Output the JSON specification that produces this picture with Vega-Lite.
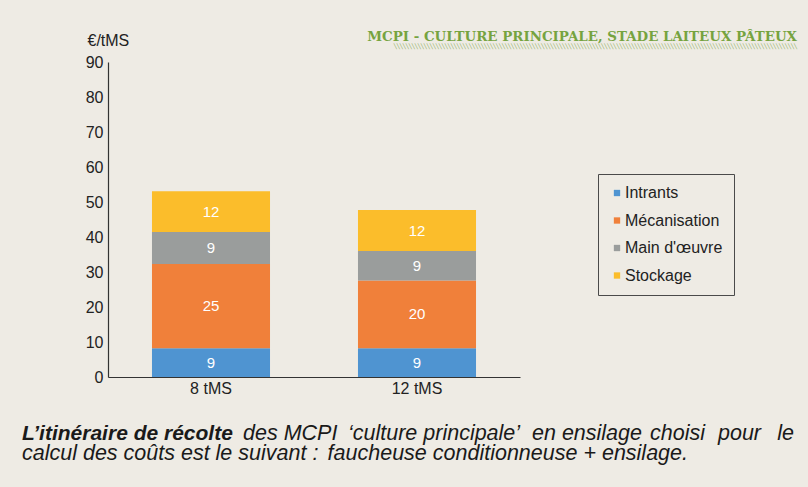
{
  "$schema": "https://vega.github.io/schema/vega-lite/v6.json",
  "width": 412,
  "height": 315,
  "autosize": {"type": "none"},
  "padding": {"left": 108, "top": 62, "right": 288, "bottom": 110},
  "background": "#eeebe4",
  "config": {"view": {"stroke": null}, "font": "Liberation Sans", "axisY": {"labelOverlap": false}},
  "datasets": {
    "costs": [
      {"cat": "8 tMS", "comp": "Intrants", "k": 1, "value": 8.2, "label": "9"},
      {"cat": "8 tMS", "comp": "Mécanisation", "k": 2, "value": 24.1, "label": "25"},
      {"cat": "8 tMS", "comp": "Main d'œuvre", "k": 3, "value": 9.1, "label": "9"},
      {"cat": "8 tMS", "comp": "Stockage", "k": 4, "value": 11.7, "label": "12"},
      {"cat": "12 tMS", "comp": "Intrants", "k": 1, "value": 8.2, "label": "9"},
      {"cat": "12 tMS", "comp": "Mécanisation", "k": 2, "value": 19.4, "label": "20"},
      {"cat": "12 tMS", "comp": "Main d'œuvre", "k": 3, "value": 8.4, "label": "9"},
      {"cat": "12 tMS", "comp": "Stockage", "k": 4, "value": 11.7, "label": "12"}
    ]
  },
  "layer": [
    {
      "data": {"name": "costs"},
      "mark": {"type": "bar"},
      "encoding": {
        "x": {
          "field": "cat", "type": "nominal", "sort": ["8 tMS", "12 tMS"],
          "scale": {"paddingInner": 0.427, "paddingOuter": 0.2135},
          "axis": {"title": null, "labelAngle": 0, "ticks": false, "domainColor": "#333333", "domainWidth": 1.2, "labelPadding": 3, "labelFont": "Liberation Sans", "labelFontSize": 16, "labelColor": "#222222"}
        },
        "y": {
          "field": "value", "type": "quantitative", "stack": "zero",
          "scale": {"domain": [0, 90], "nice": false},
          "axis": {
            "title": "€/tMS", "titleAngle": 0, "titleX": -21, "titleY": -17, "titleAlign": "left", "titleBaseline": "alphabetic",
            "titleFont": "Liberation Sans", "titleFontSize": 16, "titleFontWeight": "normal", "titleColor": "#222222",
            "ticks": false, "grid": false, "values": [0, 10, 20, 30, 40, 50, 60, 70, 80, 90], "labelOverlap": false,
            "labelFont": "Liberation Sans", "labelFontSize": 16, "labelColor": "#222222", "labelPadding": 5,
            "domainColor": "#333333", "domainWidth": 1.2
          }
        },
        "color": {
          "field": "comp", "type": "nominal",
          "scale": {"domain": ["Intrants", "Mécanisation", "Main d'œuvre", "Stockage"], "range": ["#4f94d1", "#f0803a", "#9a9d9c", "#fbbd2b"]},
          "legend": {
            "title": null, "orient": "none", "legendX": 490, "legendY": 112,
            "strokeColor": "#4a4a4a", "padding": 11,
            "symbolType": "square", "symbolSize": 40, "symbolStrokeWidth": 0,
            "labelFont": "Liberation Sans", "labelFontSize": 16, "labelColor": "#222222",
            "rowPadding": 11.5, "labelOffset": 0
          }
        },
        "order": {"field": "k", "type": "quantitative"}
      }
    },
    {
      "data": {"name": "costs"},
      "mark": {"type": "text", "color": "white", "fontSize": 15, "font": "Liberation Sans"},
      "encoding": {
        "x": {"field": "cat", "type": "nominal", "sort": ["8 tMS", "12 tMS"],
          "axis": {"title": null, "labelAngle": 0, "ticks": false, "domainColor": "#333333", "domainWidth": 1.2, "labelPadding": 3, "labelFont": "Liberation Sans", "labelFontSize": 16, "labelColor": "#222222"}},
        "y": {"field": "value", "type": "quantitative", "stack": "zero", "bandPosition": 0.5,
          "axis": {
            "title": "€/tMS", "titleAngle": 0, "titleX": -21, "titleY": -17, "titleAlign": "left", "titleBaseline": "alphabetic",
            "titleFont": "Liberation Sans", "titleFontSize": 16, "titleFontWeight": "normal", "titleColor": "#222222",
            "ticks": false, "grid": false, "values": [0, 10, 20, 30, 40, 50, 60, 70, 80, 90], "labelOverlap": false,
            "labelFont": "Liberation Sans", "labelFontSize": 16, "labelColor": "#222222", "labelPadding": 5,
            "domainColor": "#333333", "domainWidth": 1.2
          }},
        "detail": {"field": "comp"},
        "order": {"field": "k", "type": "quantitative"},
        "text": {"field": "label"}
      }
    },
    {
      "data": {"values": [{"t": "MCPI - CULTURE PRINCIPALE, STADE LAITEUX PÂTEUX"}]},
      "mark": {"type": "text", "align": "right", "baseline": "alphabetic", "font": "DejaVu Serif", "fontSize": 13.4, "fontWeight": "bold", "color": "#76a33f", "x": 689, "y": -21},
      "encoding": {"text": {"field": "t"}}
    },
    {
      "data": {"values": [{"t": "╲╲╲╲╲╲╲╲╲╲╲╲╲╲╲╲╲╲╲╲╲╲╲╲╲╲╲╲╲╲╲╲╲╲╲╲╲╲╲╲╲╲╲╲╲╲╲╲╲╲╲╲╲╲╲╲╲╲╲╲╲╲╲╲╲╲╲╲╲╲╲╲╲╲╲╲╲╲╲╲╲╲╲╲╲╲╲╲╲╲╲╲╲╲╲╲╲╲╲╲╲╲╲╲╲╲╲╲╲╲╲╲╲╲╲╲╲╲╲╲╲╲╲╲╲╲╲╲╲╲╲╲╲╲"}]},
      "mark": {"type": "text", "align": "right", "baseline": "alphabetic", "font": "DejaVu Sans", "fontSize": 5, "fontWeight": "bold", "color": "#76a33f", "x": 689, "y": -14},
      "encoding": {"text": {"field": "t"}}
    },
    {
      "data": {"values": [{"t": "L’itinéraire de récolte"}]},
      "mark": {"type": "text", "align": "left", "baseline": "alphabetic", "fontSize": 21, "fontStyle": "italic", "fontWeight": "bold", "color": "#1a1a1a", "x": -86, "y": 378},
      "encoding": {"text": {"field": "t"}}
    },
    {
      "data": {"values": [{"t": "des MCPI"}]},
      "mark": {"type": "text", "align": "left", "baseline": "alphabetic", "fontSize": 21.5, "fontStyle": "italic", "color": "#1a1a1a", "x": 135, "y": 378},
      "encoding": {"text": {"field": "t"}}
    },
    {
      "data": {"values": [{"t": "‘culture principale’"}]},
      "mark": {"type": "text", "align": "left", "baseline": "alphabetic", "fontSize": 21.5, "fontStyle": "italic", "color": "#1a1a1a", "x": 240, "y": 378},
      "encoding": {"text": {"field": "t"}}
    },
    {
      "data": {"values": [{"t": "en ensilage"}]},
      "mark": {"type": "text", "align": "left", "baseline": "alphabetic", "fontSize": 21.5, "fontStyle": "italic", "color": "#1a1a1a", "x": 424, "y": 378},
      "encoding": {"text": {"field": "t"}}
    },
    {
      "data": {"values": [{"t": "choisi"}]},
      "mark": {"type": "text", "align": "left", "baseline": "alphabetic", "fontSize": 21.5, "fontStyle": "italic", "color": "#1a1a1a", "x": 542, "y": 378},
      "encoding": {"text": {"field": "t"}}
    },
    {
      "data": {"values": [{"t": "pour"}]},
      "mark": {"type": "text", "align": "left", "baseline": "alphabetic", "fontSize": 21.5, "fontStyle": "italic", "color": "#1a1a1a", "x": 610, "y": 378},
      "encoding": {"text": {"field": "t"}}
    },
    {
      "data": {"values": [{"t": "le"}]},
      "mark": {"type": "text", "align": "right", "baseline": "alphabetic", "fontSize": 21.5, "fontStyle": "italic", "color": "#1a1a1a", "x": 686, "y": 378},
      "encoding": {"text": {"field": "t"}}
    },
    {
      "data": {"values": [{"t": "calcul des coûts est le suivant :"}]},
      "mark": {"type": "text", "align": "left", "baseline": "alphabetic", "fontSize": 21.5, "fontStyle": "italic", "color": "#1a1a1a", "x": -86, "y": 398},
      "encoding": {"text": {"field": "t"}}
    },
    {
      "data": {"values": [{"t": "faucheuse conditionneuse + ensilage."}]},
      "mark": {"type": "text", "align": "right", "baseline": "alphabetic", "fontSize": 21.5, "fontStyle": "italic", "color": "#1a1a1a", "x": 580, "y": 398},
      "encoding": {"text": {"field": "t"}}
    }
  ]
}
